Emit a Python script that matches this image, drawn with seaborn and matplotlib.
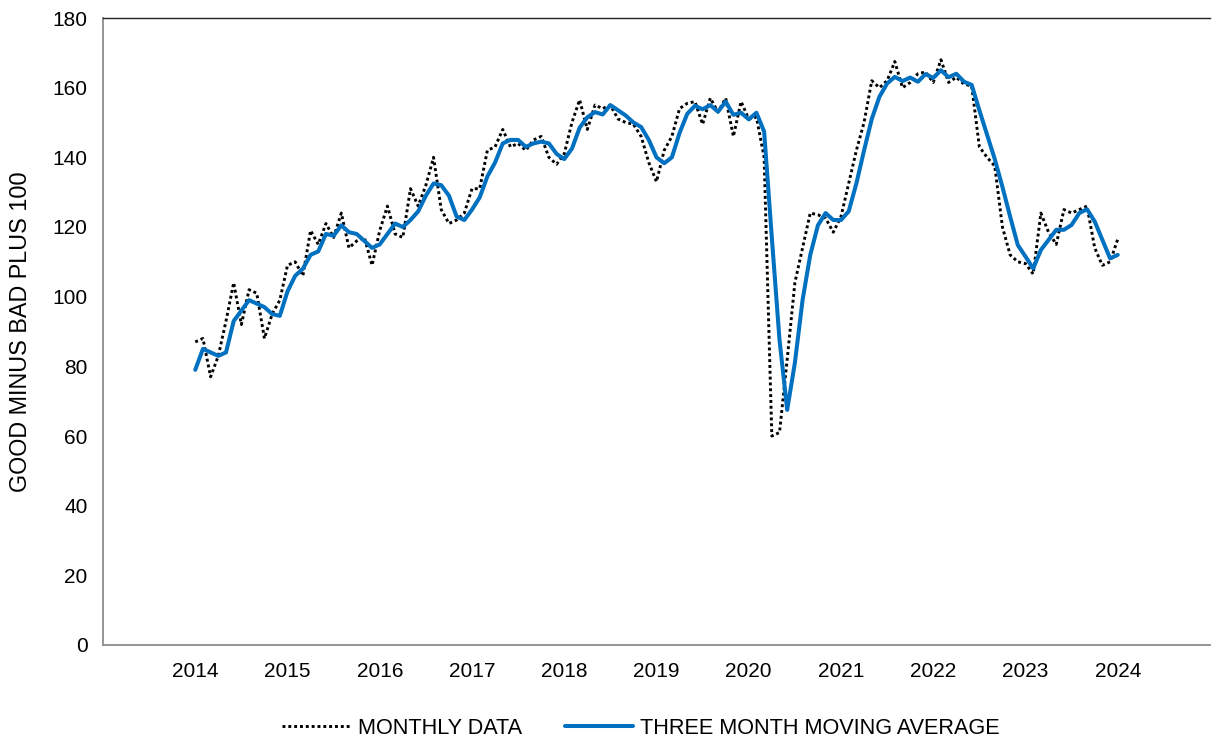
import numpy as np
import pandas as pd
import matplotlib
matplotlib.use("Agg")
import matplotlib.pyplot as plt
import seaborn as sns

# Monthly survey balance (good minus bad plus 100), Jan 2014 - Jan 2024
monthly_data = [
    87, 88, 77, 83, 93, 104, 92, 102, 101, 88, 95, 99,                      # 2014
    109, 110, 106, 119, 115, 121, 117, 124, 114, 116, 117, 109,             # 2015
    119, 126, 118, 117, 131, 126, 132, 140, 125, 121, 122, 124,             # 2016
    131, 131, 142, 143, 148, 143, 144, 142, 145, 146, 140, 138,             # 2017
    141, 150, 156.5, 148, 155, 154, 155, 151, 150, 149.5, 146, 138.5,       # 2018
    133, 142, 146, 154, 155.5, 156, 149.5, 157, 153, 157, 146, 156,         # 2019
    151, 151.5, 140, 60, 61, 82, 104, 114, 124, 123.5, 122.5, 118.5,        # 2020
    123, 132.5, 142, 150, 162, 160, 162, 167.5, 160, 161.5, 164, 164.5,     # 2021
    161.5, 168, 161.5, 163, 161, 160.5, 143, 140, 137.5, 120, 112, 110,     # 2022
    109.5, 106.5, 124, 118.5, 115, 125, 124, 125, 126, 114, 109, 110,       # 2023
    116.5,                                                                  # 2024
]

# Three month moving average of the balance
moving_average = [
    79, 85, 84, 83, 84, 93, 96, 99, 98, 97, 95, 94.5,
    101.5, 106, 108, 112, 113, 118, 117.5, 120.5, 118.5, 118, 116, 114,
    115, 118, 121, 120, 122, 124.5, 129, 132.5, 132, 129, 123, 122,
    125, 128.5, 134.5, 138.5, 144, 145, 145, 143, 144, 144.5, 144, 141,
    139.5, 142.5, 148.5, 151.5, 153, 152.3, 155, 153.5, 152, 150, 148.7, 145,
    140, 138.3, 140, 147, 152.5, 154.8, 153.8, 155, 153.1, 156, 152.2, 152.8,
    150.9, 152.8, 147.4, 117, 87.6, 67.5, 81, 99, 112, 120.5, 124, 122,
    122, 124.5, 132.5, 142, 151, 157.4, 161.2, 163.1, 161.9, 162.9, 161.7, 163.9,
    162.8, 165, 163, 164, 161.7, 160.8, 153.5, 146.5, 139.5, 131.5, 123, 114.8,
    111.5, 108.1, 113.4, 116.3, 119.2, 119.2, 120.6, 124, 125.1, 121.6, 116.3, 111,
    112,
]

year_labels = [str(y) for y in range(2014, 2025)]
series_names = ["MONTHLY DATA", "THREE MONTH MOVING AVERAGE"]

dates = pd.date_range("2014-01-01", periods=len(monthly_data), freq="MS")
decimal_year = dates.year + (dates.month - 1) / 12.0

df = pd.DataFrame({
    "year": np.concatenate([decimal_year, decimal_year]),
    "value": monthly_data + moving_average,
    "series": [series_names[0]] * len(monthly_data) + [series_names[1]] * len(moving_average),
})

sns.set_theme(style="white")
plt.rcParams["font.family"] = ["Liberation Sans", "DejaVu Sans"]
plt.rcParams["text.color"] = "black"
plt.rcParams["axes.labelcolor"] = "black"

fig = plt.figure(figsize=(12.26, 7.44), dpi=100)
ax = fig.add_axes([103 / 1226, 1 - 645 / 744, (1210 - 103) / 1226, (645 - 18) / 744])

sns.lineplot(data=df[df.series == series_names[0]], x="year", y="value",
             color="black", linewidth=2.1, linestyle=(0, (1, 1.0)),
             label=series_names[0], ax=ax, zorder=2)
sns.lineplot(data=df[df.series == series_names[1]], x="year", y="value",
             color="#0070C0", linewidth=2.9, label=series_names[1], ax=ax, zorder=3)

ax.set_xlim(2013, 2025)
ax.set_ylim(0, 180)
ax.set_xticks(range(2013, 2026))
ax.set_xticklabels([""] + year_labels + [""])
ax.set_yticks(range(0, 181, 20))

axis_grey = "#8c8c8c"
for side in ["left", "bottom"]:
    ax.spines[side].set_color(axis_grey)
    ax.spines[side].set_linewidth(1.3)
ax.spines["top"].set_color("#222222")
ax.spines["top"].set_linewidth(1.0)
ax.spines["right"].set_visible(False)

ax.tick_params(axis="both", which="major", direction="out", length=5, width=1.3,
               color=axis_grey, labelsize=15, labelcolor="black")
ax.tick_params(axis="x", pad=7)
ax.tick_params(axis="y", pad=6)

ax.set_xlabel("")
ax.set_ylabel("GOOD MINUS BAD PLUS 100", fontsize=16.8, color="black")
ax.yaxis.set_label_coords(-0.064, 0.5)

leg = ax.legend(loc="center", bbox_to_anchor=(641 / 1226, 1 - 728 / 744),
                bbox_transform=fig.transFigure, ncol=2, frameon=False,
                fontsize=15.6, handlelength=3.15, handletextpad=0.33, columnspacing=2.0)
for text in leg.get_texts():
    text.set_color("black")

fig.savefig("out.png", dpi=100)
